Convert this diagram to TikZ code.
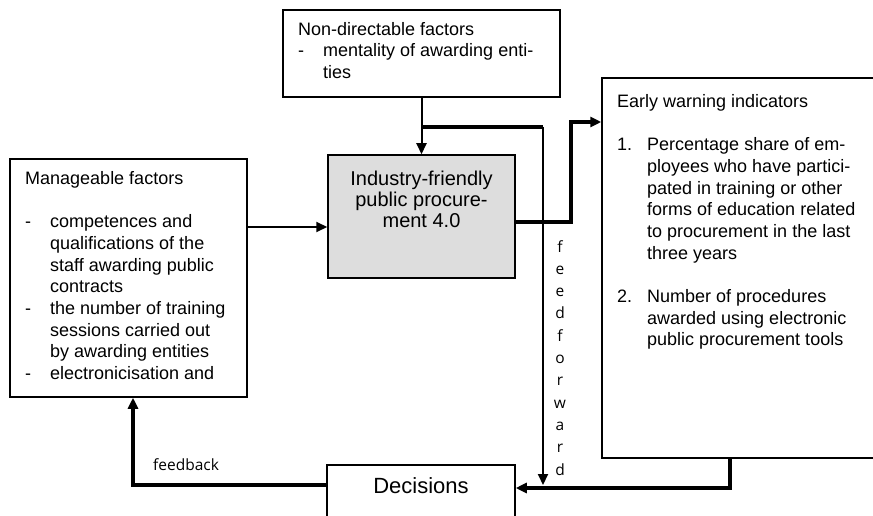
\documentclass[tikz,border=0pt]{standalone}
\usepackage{fontspec}
\setmainfont{Liberation Sans}
\newfontfamily\notefont{Open Sans}
\usetikzlibrary{arrows.meta}
\definecolor{boxgray}{RGB}{221,221,221}

\begin{document}
\begin{tikzpicture}[x=1pt,y=-1pt,
  box/.style={draw=black, line width=1.5pt, inner sep=0pt},
  body/.style={inner sep=0pt, anchor=north west, align=left,
    font=\fontsize{18}{21.7}\selectfont},
  thinline/.style={line width=2pt},
  thickline/.style={line width=3.2pt},
  tip/.style={-{Triangle[length=11pt,width=10pt]}},
  note/.style={inner sep=0pt, font=\notefont\fontsize{15.5}{22.3}\selectfont}]

\useasboundingbox (0,0) rectangle (873,516);

% boxes
\node[box, minimum width=277pt, minimum height=87pt] (nd) at (421.5,53.5) {};
\node[box, fill=boxgray, minimum width=187pt, minimum height=123pt] (ind) at (421.5,216.5) {};
\node[box, minimum width=237pt, minimum height=238pt] (mf) at (128.5,278) {};
\node[box, minimum width=288pt, minimum height=380pt] (ew) at (746,268) {};
\node[box, minimum width=188pt, minimum height=65pt] (dec) at (421,497.5) {};

% box texts
\node[body] (ndtext) at (298,22) {Non-directable factors\\
  \makebox[25pt][l]{-}mentality of awarding enti-\\
  \hspace*{25pt}ties};

\node[body, anchor=north, align=center, font=\fontsize{20}{21}\selectfont] (indtext) at (421.5,170.5)
  {Industry-friendly\\ public procure-\\ ment 4.0};

\node[body] (mftext) at (25,171) {Manageable factors\\ ~\\
  \makebox[25pt][l]{-}competences and\\
  \hspace*{25pt}qualifications of the\\
  \hspace*{25pt}staff awarding public\\
  \hspace*{25pt}contracts\\
  \makebox[25pt][l]{-}the number of training\\
  \hspace*{25pt}sessions carried out\\
  \hspace*{25pt}by awarding entities\\
  \makebox[25pt][l]{-}electronicisation and};

\node[body] (ewtext) at (617,94) {Early warning indicators\\ ~\\
  \makebox[30pt][l]{1.}Percentage share of em-\\
  \hspace*{30pt}ployees who have partici-\\
  \hspace*{30pt}pated in training or other\\
  \hspace*{30pt}forms of education related\\
  \hspace*{30pt}to procurement in the last\\
  \hspace*{30pt}three years\\ ~\\
  \makebox[30pt][l]{2.}Number of procedures\\
  \hspace*{30pt}awarded using electronic\\
  \hspace*{30pt}public procurement tools};

\node[inner sep=0pt, anchor=base, font=\fontsize{22}{26}\selectfont] (dectext) at (421,493) {Decisions};

% connector labels
\node[note, anchor=north, align=center] (fflabel) at (560,240)
  {f\\e\\e\\d\\f\\o\\r\\w\\a\\r\\d};
\node[note, anchor=base west] (fblabel) at (153,470) {feedback};

% connectors
\coordinate (split) at (422,127);
\coordinate (ffend) at (543,485);

\draw[thinline, tip] (nd.south) -- (ind.north);
\draw[thickline] (split) -- (543,127);
\draw[thinline, tip] (543,127) -- (ffend);
\draw[thinline, tip] (mf.east |- 0,227) -- (ind.west |- 0,227);
\draw[thickline, tip] (ind.east |- 0,222) -- (571,222) -- (571,122) -- (ew.west |- 0,122);
\draw[thickline, tip] (ew.south -| 730,0) -- (730,488) -- (dec.east |- 0,488);
\draw[thickline, tip] (dec.west |- 0,485) -- (133,485) -- (mf.south -| 133,0);
\end{tikzpicture}
\end{document}
